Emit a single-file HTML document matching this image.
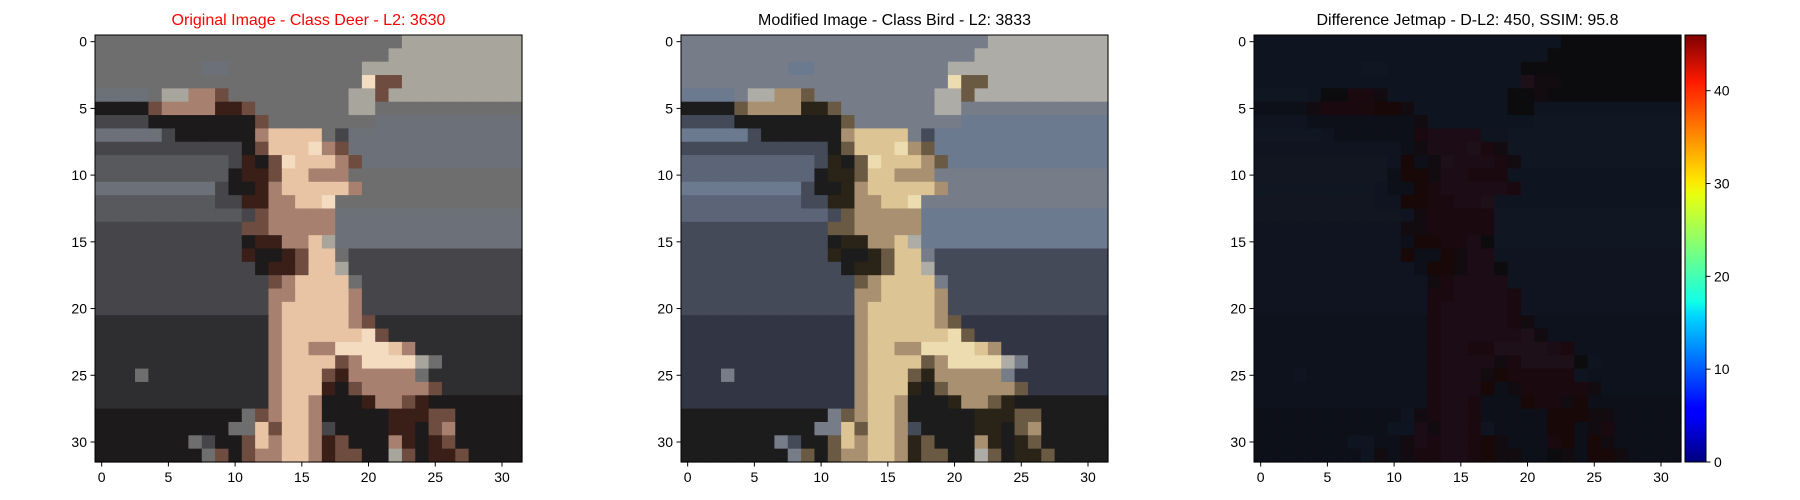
<!DOCTYPE html>
<html><head><meta charset="utf-8"><style>
html,body{margin:0;padding:0;background:#fff;width:1800px;height:500px;overflow:hidden}
svg{display:block}
text{font-family:"Liberation Sans","DejaVu Sans",sans-serif}
</style></head><body>
<svg id="fig" width="1800" height="500" xmlns="http://www.w3.org/2000/svg">
<defs><linearGradient id="jet" x1="0" y1="1" x2="0" y2="0">
<stop offset="0" stop-color="#00007f"/><stop offset="0.11" stop-color="#0000ff"/><stop offset="0.125" stop-color="#0000ff"/>
<stop offset="0.34" stop-color="#00d4ff"/><stop offset="0.375" stop-color="#0fffe8"/><stop offset="0.5" stop-color="#7dff7a"/>
<stop offset="0.625" stop-color="#e8ff0f"/><stop offset="0.66" stop-color="#ffe600"/><stop offset="0.89" stop-color="#ff1a00"/>
<stop offset="1" stop-color="#7f0000"/></linearGradient></defs>
</svg>
<script>
const rows = [
"gggggggggggggggggggggggllllllllll".slice(0,32),
"ggggggggggggggggggggggllllllllll",
"ggggggggbbggggggggggllllllllllll",
"ggggggggggggggggggggwmmlllllllll",
"bbbbgllttmgggggggggllmllllllllll",
"kkkkmttttrrmgggggggllggggggggggg",
"ddddkkkkkkkkmggggggggbbbbbbbbbbb",
"bbbbbdkkkkkktssssgdbbbbbbbbbbbbb",
"dddddddddddkmssswtmbbbbbbbbbbbbb".slice(0,32),
"eeeeeeeeeedrkmwssstmbbbbbbbbbbbb".slice(0,32),
"eeeeeeeeeekrrmsstttggggggggggggg",
"bbbbbbbbbdkkrtssssstggggggggggggg".slice(0,32),
"eeeeeeeeeddrrttsswgggggggggggggg",
"eeeeeeeeeeedmtttttbbbbbbbbbbbbbb",
"dddddddddddmmtttttbbbbbbbbbbbbbb",
"dddddddddddkrrttslbbbbbbbbbbbbbb",
"dddddddddddrkkrmssgddddddddddddd",
"ddddddddddddkrrmssldddddddddddddd".slice(0,32),
"dddddddddddddmtssssgdddddddddddd",
"dddddddddddddttsssstdddddddddddd",
"dddddddddddddtssssstdddddddddddd",
"ffffffffffffftssssstmfffffffffff",
"ffffffffffffftsssssswmffffffffff",
"ffffffffffffftssttwwwwstffffffff",
"ffffffffffffftssssmtwwwwlgffffff".slice(0,32),
"fffgffffffffftsssmrtttttgffffff".padEnd(32,"f"),
"ffffffffffffftsssrkmtttttmffffff",
"ffffffffffffftsstkkkrttmrkkkkkkk".slice(0,32),
"kkkkkkkkkkkgmtsstkkkkkrrrmmkkkkk",
"kkkkkkkkkkggsmsstdkkkkrrkmtkkkkk",
"kkkkkkkgdkkmstsstrmkkktrkrmkkkkk",
"kkkkkkkkgmkmttsstrmmkklmkrrmkkkk"
];
const pal1 = {g:"#6e6e6e",l:"#a8a69c",b:"#6c7078",e:"#58595c",d:"#46464a",f:"#2e2e30",k:"#1c1a1a",s:"#e8c4a4",w:"#f4dcc0",t:"#a88070",m:"#6e4c40",r:"#3a1e18"};
const pal2 = {g:"#767c88",l:"#aeaca6",b:"#6c7a90",e:"#5c6478",d:"#444a58",f:"#323644",k:"#1c1c1c",s:"#dcc494",w:"#ecdcb0",t:"#a89070",m:"#6a5a44",r:"#2a2418"};
const pal3 = {g:"#0f1520",l:"#0c0c0e",b:"#101722",e:"#111620",d:"#0f1420",f:"#0d121c",k:"#0d1018",s:"#1c0c16",w:"#1e1018",t:"#1a0a10",m:"#120c10",r:"#180808"};
const titles = ["Original Image - Class Deer - L2: 3630","Modified Image - Class Bird - L2: 3833","Difference Jetmap - D-L2: 450, SSIM: 95.8"];
const ticks = [0,5,10,15,20,25,30];
const cbTicks = [0,10,20,30,40];
const cbMax = 46;

const NS="http://www.w3.org/2000/svg";
const svgEl=document.getElementById('fig');
function mk(tag,attrs,parent){const e=document.createElementNS(NS,tag);for(const k in attrs)e.setAttribute(k,attrs[k]);(parent||svgEl).appendChild(e);return e;}
const lefts=[95,681,1254], axTop=35, axSize=427, cell=axSize/32;
const pals=[pal1,pal2,pal3];
const names=["original","modified","difference"];
lefts.forEach((L,pi)=>{
  const g=mk('g',{});
  
  
  for(let r=0;r<32;r++){const row=(rows[r]||"").padEnd(32,'d');
    for(let c=0;c<32;c++){
      const px=mk('rect',{x:(L+c*cell).toFixed(2),y:(axTop+r*cell).toFixed(2),width:(cell+0.6).toFixed(2),height:(cell+0.6).toFixed(2),fill:pals[pi][row[c]]||"#444"},g);
      
      
    }}
  const fr=mk('rect',{x:L,y:axTop,width:axSize,height:axSize,fill:'none',stroke:'#000','stroke-width':1},g);
  
  
  const t=mk('text',{x:L+axSize/2,y:25,'text-anchor':'middle','font-size':16,fill:pi==0?'#ff0000':'#000'},g);
  t.textContent=titles[pi];
  
  
  ticks.forEach(v=>{
    const p=v*cell+cell/2;
    mk('line',{x1:L+p,x2:L+p,y1:axTop+axSize,y2:axTop+axSize+4.5,stroke:'#000'},g);
    const xt=mk('text',{x:L+p,y:axTop+axSize+20,'text-anchor':'middle','font-size':14},g);
    xt.textContent=v;
    
    
    mk('line',{x1:L-4.5,x2:L,y1:axTop+p,y2:axTop+p,stroke:'#000'},g);
    const yt=mk('text',{x:L-8,y:axTop+p+5,'text-anchor':'end','font-size':14},g);
    yt.textContent=v;
    
    
  });
});
const cbx=1685, cbw=21, cby=35, cbh=427;
const cb=mk('rect',{x:cbx,y:cby,width:cbw,height:cbh,fill:'url(#jet)',stroke:'#000','stroke-width':1});


cbTicks.forEach(v=>{
  const y=cby+cbh-v/cbMax*cbh;
  mk('line',{x1:cbx+cbw,x2:cbx+cbw+4.5,y1:y,y2:y,stroke:'#000'});
  const t=mk('text',{x:cbx+cbw+8,y:y+5,'font-size':14});
  t.textContent=v;
  
  
});
</script>
</body></html>
